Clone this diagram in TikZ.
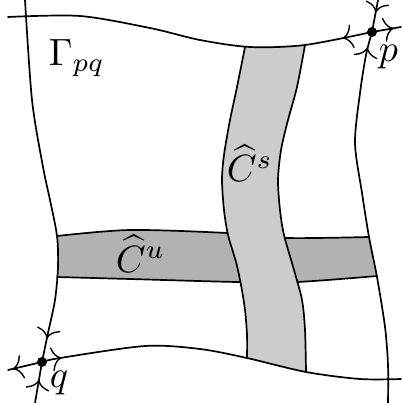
\documentclass[tikz,border=0pt]{standalone}
\usetikzlibrary{decorations.markings,arrows.meta}
\begin{document}
\begin{tikzpicture}[x=1pt,y=-1pt,
  >={Computer Modern Rightarrow[width=24pt,length=10pt]},
  bd/.style={line width=1.7pt, line cap=round},
  mk/.style 2 args={postaction={decorate,decoration={markings,mark=at position #1 with {\arrow[line width=1.4pt]{#2}}}}},
  lab/.style={inner sep=0pt, scale=3.8},
  ufill/.style={fill=black!30},
  sfill/.style={fill=black!20}]
\useasboundingbox (0,0) rectangle (401,403);
\coordinate (p) at (372,32);
\coordinate (q) at (42,362);
% unstable strip C^u
\fill[ufill] plot[smooth] coordinates {(57,236) (130,230) (227,233) (287,238) (369,237)}
  -- plot[smooth] coordinates {(377,276) (297,282) (237,282) (130,279) (57,277)} -- cycle;
\draw[bd] plot[smooth] coordinates {(57,236) (130,230) (227,233) (287,238) (369,237)};
\draw[bd] plot[smooth] coordinates {(377,276) (297,282) (237,282) (130,279) (57,277)};
% stable strip C^s
\fill[sfill] plot[smooth] coordinates {(245,47) (237,87) (230,120) (224,155) (222,180) (224,210) (228,235) (236,262) (241,285) (245,310) (247,335) (247,358)}
  -- plot[smooth] coordinates {(306,372) (305,330) (302,300) (294,270) (284,235) (280,210) (278,180) (281,150) (288,120) (297,87) (305,45)} -- cycle;
\draw[bd] plot[smooth] coordinates {(245,47) (237,87) (230,120) (224,155) (222,180) (224,210) (228,235) (236,262) (241,285) (245,310) (247,335) (247,358)};
\draw[bd] plot[smooth] coordinates {(306,372) (305,330) (302,300) (294,270) (284,235) (280,210) (278,180) (281,150) (288,120) (297,87) (305,45)};
% boundary curves
\draw[bd, mk={-20pt}{<}] plot[smooth] coordinates {(8,17) (80,16) (150,28) (200,40) (250,47) (305,45) (372,32)};
\draw[bd, mk={22pt}{>}] (p) -- (401,27);
\draw[bd, mk={-20pt}{>}] (378,0) -- (p);
\draw[bd, mk={26pt}{<}] plot[smooth] coordinates {(372,32) (366,55) (360,93) (355,143) (362,193) (369,237) (377,277) (385,327) (388,365) (388,403)};
\draw[bd, mk={-24pt}{>}] plot[smooth] coordinates {(25,0) (32,100) (43,167) (50,200) (57,236) (58,267) (55,300) (48,333) (42,362)};
\draw[bd, mk={28pt}{<}] (q) -- (35,403);
\draw[bd, mk={-20pt}{<}] (8,370) -- (q);
\draw[bd, mk={20pt}{>}] plot[smooth] coordinates {(42,362) (60,358) (145,346) (200,349) (247,358) (306,372) (360,379) (401,379)};
\fill (p) circle (5);
\fill (q) circle (5);
% labels
\node[lab, anchor=base west] (G) at (48,66) {$\Gamma_{pq}$};
\node[lab, anchor=base west] (Cs) at (226,182) {$\widehat{C}^s$};
\node[lab, anchor=base west] (Cu) at (115,272) {$\widehat{C}^u$};
\node[lab, anchor=base west] (plab) at (378,62) {$p$};
\node[lab, anchor=base west] (qlab) at (49,387) {$q$};
\end{tikzpicture}
\end{document}
